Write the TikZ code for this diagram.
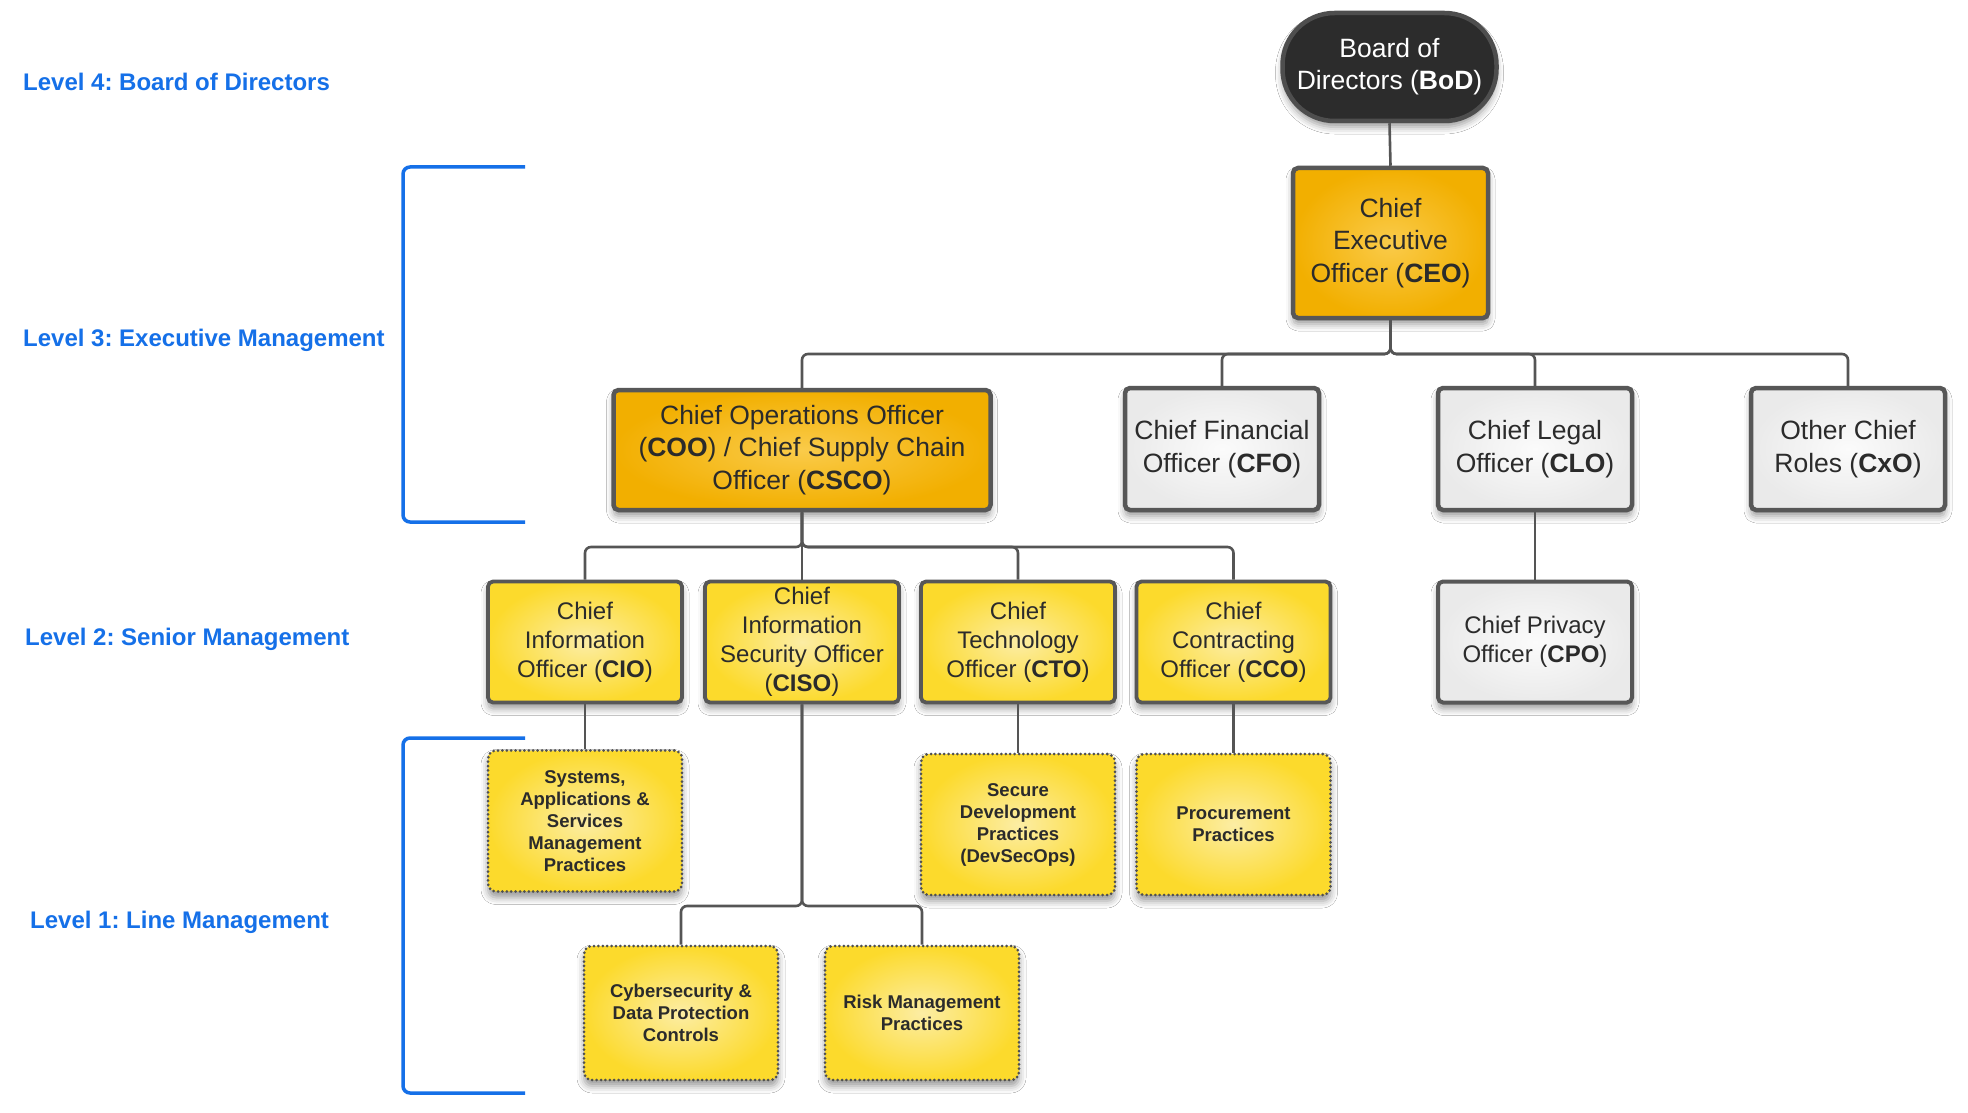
\documentclass[tikz,border=0pt]{standalone}
\usepackage{fontspec}
\setmainfont{Liberation Sans}
\usetikzlibrary{shadows.blur}
\frenchspacing
\definecolor{bord}{HTML}{575757}
\definecolor{dotc}{HTML}{505050}
\definecolor{txt}{HTML}{2B2B2B}
\definecolor{goldin}{HTML}{FACB4A}
\definecolor{goldout}{HTML}{F2AF00}
\definecolor{yelin}{HTML}{FCEDA4}
\definecolor{yelout}{HTML}{FCDA2C}
\definecolor{whin}{HTML}{FBFBFB}
\definecolor{whout}{HTML}{EAEAEA}
\definecolor{bodfill}{HTML}{2C2C2C}
\definecolor{bodbord}{HTML}{4E4E4E}
\definecolor{lvlblue}{HTML}{1570E8}
\definecolor{conn}{HTML}{555555}
\newcommand{\fThree}{\fontsize{26.5}{32.5}\selectfont}
\newcommand{\fTwo}{\fontsize{24}{29}\selectfont}
\newcommand{\fOne}{\fontsize{18.5}{22}\selectfont\bfseries}
\newcommand{\fLvl}{\fontsize{24}{29}\selectfont\bfseries}
\tikzset{
  shad/.style={blur shadow={shadow xshift=0pt, shadow yshift=-6pt, shadow blur radius=7pt, shadow opacity=40}},
  box/.style={rectangle, rounded corners=5pt, inner sep=0pt, align=center, text=txt, draw=bord, shad},
  bodbox/.style={rectangle, rounded corners=52pt, inner sep=0pt, align=center, text=white, draw=bodbord,
    fill=bodfill, line width=4.5pt, minimum width=214pt, minimum height=108pt, font=\fThree, shad},
  goldbox/.style={box, line width=4.5pt, shading=radial, inner color=goldin, outer color=goldout, font=\fThree},
  whitebox/.style={box, line width=4.5pt, shading=radial, inner color=whin, outer color=whout, font=\fThree,
    minimum width=194pt, minimum height=122pt},
  cpobox/.style={box, line width=4pt, shading=radial, inner color=whin, outer color=whout, font=\fTwo,
    minimum width=194pt, minimum height=121pt},
  yelbox/.style={box, line width=3.8pt, shading=radial, inner color=yelin, outer color=yelout, font=\fTwo,
    minimum width=194pt, minimum height=121pt},
  linebox/.style={box, draw=dotc, rounded corners=8pt, line width=3pt, dash pattern=on 0pt off 4.4pt, line cap=round,
    shading=radial, inner color=yelin, outer color=yelout, font=\fOne, minimum width=194pt},
  lvl/.style={anchor=west, inner sep=0pt, text=lvlblue, font=\fLvl},
  link/.style={draw=conn, line width=2.6pt, rounded corners=6pt},
  brack/.style={draw=lvlblue, line width=3.5pt, rounded corners=7pt}
}
\begin{document}
\begin{tikzpicture}[x=1pt, y=-1pt]
\useasboundingbox (0,0) rectangle (1968,1113);
\fill[white] (0,0) rectangle (1968,1113);

% level labels
\node[lvl] (l4) at (23,82) {Level 4: Board of Directors};
\node[lvl] (l3) at (23,340) {Level 3: Executive Management};
\node[lvl] (l2) at (25,639) {Level 2: Senior Management};
\node[lvl] (l1) at (30,922) {Level 1: Line Management};

% brackets
\draw[brack] (525,167) -- (403,167) -- (403,522) -- (525,522);
\draw[brack] (525,738) -- (403,738) -- (403,1093) -- (525,1093);

% bus coordinates
\coordinate (bus3) at (0,354);
\coordinate (bus2) at (0,547);
\coordinate (bus1) at (0,906);

% nodes
\node[bodbox] (bod) at (1389.5,67) {\raisebox{2pt}{\begin{tabular}{@{}c@{}}Board of\\Directors (\textbf{BoD})\end{tabular}}};
\node[goldbox, minimum width=195pt, minimum height=150pt] (ceo) at (1390.5,243) {Chief\\Executive\\Officer (\textbf{CEO})};
\node[goldbox, minimum width=377pt, minimum height=120pt] (coo) at (802,450) {Chief Operations Officer\\(\textbf{COO}) / Chief Supply Chain\\Officer (\textbf{CSCO})};
\node[whitebox] (cfo) at (1222,449) {Chief Financial\\Officer (\textbf{CFO})};
\node[whitebox] (clo) at (1535,449) {Chief Legal\\Officer (\textbf{CLO})};
\node[whitebox] (cxo) at (1848,449) {Other Chief\\Roles (\textbf{CxO})};

\node[yelbox] (cio) at (585,642) {Chief\\Information\\Officer (\textbf{CIO})};
\node[yelbox] (ciso) at (802,642) {Chief\\Information\\Security Officer\\(\textbf{CISO})};
\node[yelbox] (cto) at (1018,642) {Chief\\Technology\\Officer (\textbf{CTO})};
\node[yelbox] (cco) at (1233.5,642) {Chief\\Contracting\\Officer (\textbf{CCO})};
\node[cpobox] (cpo) at (1535,642) {Chief Privacy\\Officer (\textbf{CPO})};

\node[linebox, minimum height=141pt] (sasmp) at (585,821) {Systems,\\Applications \&\\Services\\Management\\Practices};
\node[linebox, minimum height=141pt] (secdev) at (1018,824.5) {Secure\\Development\\Practices\\(DevSecOps)};
\node[linebox, minimum height=141pt] (proc) at (1233.5,824.5) {Procurement\\Practices};
\node[linebox, minimum height=134pt] (cyber) at (681,1013) {Cybersecurity \&\\Data Protection\\Controls};
\node[linebox, minimum height=134pt] (risk) at (922,1013) {Risk Management\\Practices};

% connectors
\path[link] (bod.south) -- (ceo.north);
\path[link] (ceo.south) -- (ceo.south |- bus3) -| (coo.north);
\path[link] (ceo.south) -- (ceo.south |- bus3) -| (cfo.north);
\path[link] (ceo.south) -- (ceo.south |- bus3) -| (clo.north);
\path[link] (ceo.south) -- (ceo.south |- bus3) -| (cxo.north);
\path[link] (coo.south) -- (coo.south |- bus2) -| (cio.north);
\path[link] (coo.south) -- (ciso.north);
\path[link] (coo.south) -- (coo.south |- bus2) -| (cto.north);
\path[link] (coo.south) -- (coo.south |- bus2) -| (cco.north);
\path[link] (clo.south) -- (cpo.north);
\path[link] (cio.south) -- (sasmp.north);
\path[link] (cto.south) -- (secdev.north);
\path[link] (cco.south) -- (proc.north);
\path[link] (ciso.south) -- (ciso.south |- bus1) -| (cyber.north);
\path[link] (ciso.south) -- (ciso.south |- bus1) -| (risk.north);
\end{tikzpicture}
\end{document}
